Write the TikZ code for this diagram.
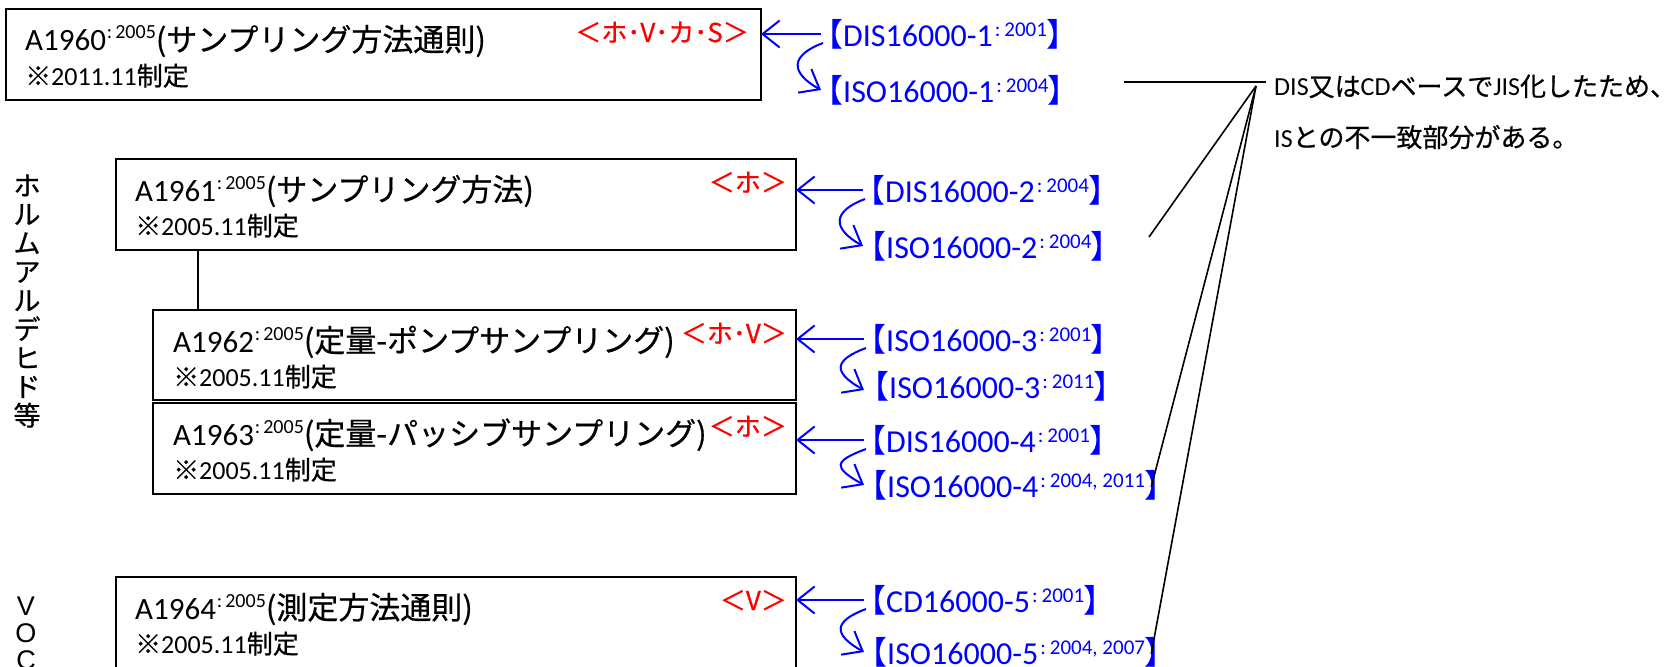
\documentclass[tikz,border=0pt]{standalone}
\usepackage{fontspec}
\setmainfont{Carlito}
\newfontfamily\jp[FakeBold=0.6]{Noto Sans CJK JP}
\newfontfamily\jpp[RawFeature=+palt]{Noto Sans CJK JP}
\newfontfamily\ltn{Liberation Sans}
\usetikzlibrary{arrows.meta,calc}
\newcommand\fs[1]{\fontsize{#1}{#1}\selectfont}
\newcommand\bsup[1]{\kern2pt\raisebox{10pt}{\fs{21}:\kern4pt#1}}
\newcommand\ksup[1]{\kern1pt\raisebox{12pt}{\fs{20}:\kern3pt#1}}
\newcommand\lbr{{\jpp 【}}
\newcommand\rbr{{\jpp 】}}
\begin{document}
\begin{tikzpicture}[x=1pt,y=-1pt,
  box/.style={draw, line width=1.8pt, anchor=north west, inner sep=0, outer sep=0},
  ttl/.style={anchor=base west, inner sep=0, font=\fs{31}},
  dat/.style={anchor=base west, inner sep=0, font=\fs{26}},
  tag/.style={anchor=base east, inner sep=0, text=red, font=\jp\fs{26}},
  lab/.style={anchor=west, inner sep=0, text=blue, font=\fs{32}},
  arr/.style={draw=blue, line width=2pt, -{Straight Barb[length=17pt,width=27pt]}},
  lead/.style={draw=black, line width=1.6pt},
  note/.style={anchor=base west, inner sep=0, font=\fs{26}}
]
\useasboundingbox (0,0) rectangle (1677,666);
\clip (0,0) rectangle (1677,666);

% boxes
\node[box, minimum width=755pt, minimum height=91pt] (b1) at (6,9) {};
\node[box, minimum width=680pt, minimum height=91pt] (b2) at (116,159) {};
\node[box, minimum width=643pt, minimum height=90pt] (b3) at (153,310) {};
\node[box, minimum width=643pt, minimum height=91pt] (b4) at (153,403) {};
\node[box, minimum width=680pt, minimum height=130pt] (b5) at (116,577) {};
\draw[line width=1.8pt] ($(b2.south west)+(82,0)$) -- ($(b3.north west)+(45,0)$);

% box texts
\node[ttl] (t1) at (25,51) {A1960\ksup{2005}{\jp (サンプリング方法通則)}};
\node[dat] (d1) at (25,85.5) {{\jp ※}2011.11{\jp 制定}};
\node[tag] (r1) at (749,42) {＜ホ･V･カ･S＞};

\node[ttl] (t2) at (135,201) {A1961\ksup{2005}{\jp (サンプリング方法)}};
\node[dat] (d2) at (135,235.5) {{\jp ※}2005.11{\jp 制定}};
\node[tag] (r2) at (787,192) {＜ホ＞};

\node[ttl] (t3) at (173,352) {A1962\ksup{2005}{\jp (定量-ポンプサンプリング)}};
\node[dat] (d3) at (173,386.5) {{\jp ※}2005.11{\jp 制定}};
\node[tag] (r3) at (787,343) {＜ホ･V＞};

\node[ttl] (t4) at (173,445) {A1963\ksup{2005}{\jp (定量-パッシブサンプリング)}};
\node[dat] (d4) at (173,479.5) {{\jp ※}2005.11{\jp 制定}};
\node[tag] (r4) at (787,436) {＜ホ＞};

\node[ttl] (t5) at (135,619) {A1964\ksup{2005}{\jp (測定方法通則)}};
\node[dat] (d5) at (135,653.5) {{\jp ※}2005.11{\jp 制定}};
\node[tag] (r5) at (787,610) {＜V＞};

% vertical group labels
\node[font=\jp\fontsize{27}{28.75}\selectfont, align=center, inner sep=0] (v1) at (27,301) {ホ\\ル\\ム\\ア\\ル\\デ\\ヒ\\ド\\等};
\node[font=\ltn\fontsize{27}{27}\selectfont, align=center, inner sep=0, anchor=north] (v2) at (26,597) {V\\O\\C};

% blue ISO labels
\node[lab] (l1a) at (827,34) {\lbr DIS16000-1\bsup{2001}\rbr};
\node[lab] (l1b) at (827,90) {\lbr ISO16000-1\bsup{2004}\rbr};
\node[lab] (l2a) at (869,190) {\lbr DIS16000-2\bsup{2004}\rbr};
\node[lab] (l2b) at (870,246) {\lbr ISO16000-2\bsup{2004}\rbr};
\node[lab] (l3a) at (870,339) {\lbr ISO16000-3\bsup{2001}\rbr};
\node[lab] (l3b) at (873,386) {\lbr ISO16000-3\bsup{2011}\rbr};
\node[lab] (l4a) at (870,440) {\lbr DIS16000-4\bsup{2001}\rbr};
\node[lab] (l4b) at (871,485) {\lbr ISO16000-4\bsup{2004, 2011}\rbr};
\node[lab] (l5a) at (870,600) {\lbr CD16000-5\bsup{2001}\rbr};
\node[lab] (l5b) at (871,652) {\lbr ISO16000-5\bsup{2004, 2007}\rbr};

% straight arrows
\draw[arr] ($(l1a.west)+(-6,0)$) -- (b1.east |- l1a.west);
\draw[arr] ($(l2a.west)+(-6,0)$) -- (b2.east |- l2a.west);
\draw[arr] ($(l3a.west)+(-6,0)$) -- (b3.east |- l3a.west);
\draw[arr] ($(l4a.west)+(-6,0)$) -- (b4.east |- l4a.west);
\draw[arr] ($(l5a.west)+(-6,0)$) -- (b5.east |- l5a.west);

% curved arrows
\draw[arr] ($(l1a.west)+(-4,9)$) .. controls +(-32,12) and +(-32,-18) .. ($(l1b.west)+(-6,0)$);
\draw[arr] ($(l2a.west)+(-4,9)$) .. controls +(-32,12) and +(-32,-18) .. ($(l2b.west)+(-7,0)$);
\draw[arr] ($(l3a.west)+(-4,9)$) .. controls +(-32,12) and +(-32,-18) .. ($(l3b.west)+(-9,4)$);
\draw[arr] ($(l4a.west)+(-4,9)$) .. controls +(-32,12) and +(-32,-18) .. ($(l4b.west)+(-7,0)$);
\draw[arr] ($(l5a.west)+(-4,9)$) .. controls +(-32,12) and +(-32,-18) .. ($(l5b.west)+(-7,0)$);

% callout
\node[note] (n1) at (1274,96) {DIS{\jp 又は}CD{\jp ベースで}JIS{\jp 化したため、}};
\node[note] (n2) at (1274,147) {IS{\jp との不一致部分がある。}};
\coordinate (h0) at (1124,82);
\coordinate (cv) at (1256,86);
\coordinate (e1) at (1149,237);
\draw[lead] (h0) -- ($(n1.west |- h0)+(-8,0)$);
\draw[lead] (cv) -- (e1);
\draw[lead] (cv) -- ($(l4b.east)+(-10,2)$);
\draw[lead] (cv) -- ($(l5b.east)+(-10,2)$);
\end{tikzpicture}
\end{document}
